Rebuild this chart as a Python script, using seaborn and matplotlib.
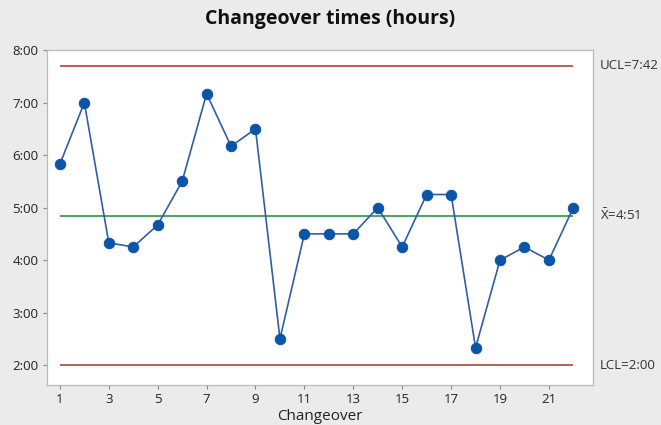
import numpy as np
import pandas as pd
import matplotlib
matplotlib.use("Agg")
import matplotlib.pyplot as plt
import seaborn as sns

# changeover times in hours
changeover = list(range(1, 23))
hours = [5.83, 7.0, 4.33, 4.25, 4.67, 5.5, 7.17, 6.17, 6.5, 2.5, 4.5,
         4.5, 4.5, 5.0, 4.25, 5.25, 5.25, 2.33, 4.0, 4.25, 4.0, 5.0]
ucl = 7.7
mean = 4.85
lcl = 2.0
limit_labels = ["UCL=7:42", r"$\bar{\mathrm{X}}$=4:51", "LCL=2:00"]
y_ticks = [2, 3, 4, 5, 6, 7, 8]
y_tick_labels = ["2:00", "3:00", "4:00", "5:00", "6:00", "7:00", "8:00"]
x_ticks = list(range(1, 23, 2))

df = pd.DataFrame({"Changeover": changeover, "hours": hours})

sns.set_theme(style="white")
plt.rcParams["font.family"] = ["Open Sans", "DejaVu Sans"]
plt.rcParams["mathtext.fontset"] = "custom"
plt.rcParams["mathtext.rm"] = "Open Sans"

bg = "#ebebeb"
fig = plt.figure(figsize=(6.61, 4.25), dpi=100, facecolor=bg)
ax = fig.add_axes([0.071, 0.094, 0.826, 0.788])
ax.set_facecolor("white")

red = "#b5403c"
ax.hlines(ucl, 1, 22, color=red, lw=1.2)
ax.hlines(lcl, 1, 22, color=red, lw=1.2)
ax.hlines(mean, 1, 22, color="#2e9444", lw=1.2)

sns.lineplot(data=df, x="Changeover", y="hours", ax=ax, color="#2f5ea8",
             lw=1.2, marker="o", markersize=7.5, markerfacecolor="#0a55a8",
             markeredgecolor="#0a55a8")

ax.set_xlim(0.47, 22.8)
ax.set_ylim(1.62, 8.0)
ax.set_yticks(y_ticks)
ax.set_yticklabels(y_tick_labels)
ax.set_xticks(x_ticks)
ax.tick_params(axis="both", which="both", length=3, width=0.8, color="#888888",
               labelsize=9.5, labelcolor="#222222", left=True, bottom=True, pad=3)

for s in ax.spines.values():
    s.set_color("#bbbbbb")
    s.set_linewidth(0.9)

for val, lab in zip([ucl, mean, lcl], limit_labels):
    ax.annotate(lab, xy=(1.0, val), xycoords=("axes fraction", "data"),
                xytext=(5, 0), textcoords="offset points", va="center",
                ha="left", fontsize=9.5, color="#333333", annotation_clip=False)

ax.set_xlabel("Changeover", fontsize=11, color="#222222", labelpad=2)
ax.set_ylabel("")
fig.text(0.5, 0.955, "Changeover times (hours)", ha="center", va="center",
         fontsize=14, fontweight="bold", color="#111111")

fig.savefig("out.png", dpi=100, facecolor=bg)
